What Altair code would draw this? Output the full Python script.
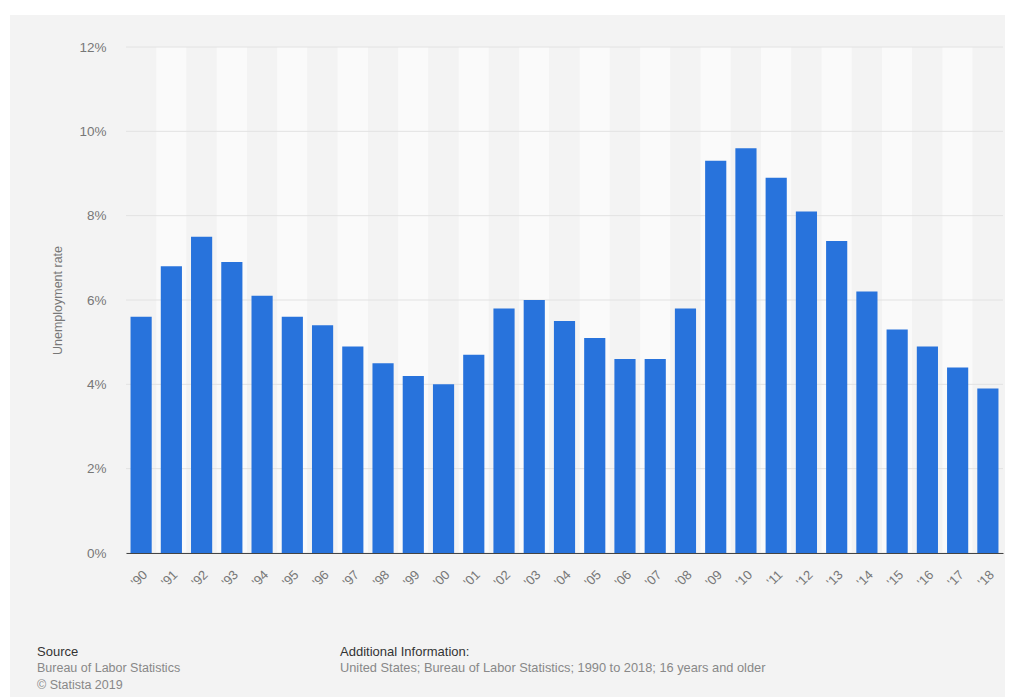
import altair as alt
import pandas as pd

years = ["'90", "'91", "'92", "'93", "'94", "'95", "'96", "'97", "'98", "'99",
         "'00", "'01", "'02", "'03", "'04", "'05", "'06", "'07", "'08", "'09",
         "'10", "'11", "'12", "'13", "'14", "'15", "'16", "'17", "'18"]
rates = [5.6, 6.8, 7.5, 6.9, 6.1, 5.6, 5.4, 4.9, 4.5, 4.2,
         4.0, 4.7, 5.8, 6.0, 5.5, 5.1, 4.6, 4.6, 5.8, 9.3,
         9.6, 8.9, 8.1, 7.4, 6.2, 5.3, 4.9, 4.4, 3.9]
y_ticks = [0, 2, 4, 6, 8, 10, 12]

FONT = "Liberation Sans"
W, H = 877, 506

df = pd.DataFrame({"year": years, "rate": rates, "odd": [i % 2 for i in range(len(years))]})
grid_df = pd.DataFrame({"v": y_ticks})
one = pd.DataFrame({"k": [0]})

xenc = alt.X("year:N", sort=years,
             scale=alt.Scale(paddingInner=0, paddingOuter=0),
             axis=alt.Axis(title=None, labelAngle=-45, labelFontSize=13, labelColor="#777",
                           labelFont=FONT, ticks=False, domain=True, domainColor="#444",
                           domainWidth=1, labelPadding=15, grid=False, zindex=1))
yscale = alt.Scale(domain=[0, 12], nice=False)
yaxis = alt.Axis(values=y_ticks, labelExpr="datum.value + '%'", title="Unemployment rate",
                 titleFont=FONT, titleFontSize=12.5, titleFontWeight="normal", titleColor="#777",
                 titleX=-69, titleY=H / 2, titleAngle=-90, titleAlign="center",
                 titleBaseline="middle",
                 labelFont=FONT, labelFontSize=13.5, labelColor="#777", labelPadding=20,
                 ticks=False, domain=False, grid=False, zindex=1)

panel = alt.Chart(one).mark_rect(color="#f3f3f3").encode(
    x=alt.value(-116), x2=alt.value(879), y=alt.value(-32), y2=alt.value(650))

bands = alt.Chart(df).mark_rect().encode(
    x=xenc,
    y=alt.value(0), y2=alt.value(H),
    color=alt.condition("datum.odd == 1", alt.value("#fafafa"), alt.value("#f3f3f3")))

grid = alt.Chart(grid_df).mark_rule(color="#e2e2e2", strokeWidth=1).encode(
    y=alt.Y("v:Q", scale=yscale, axis=yaxis),
    x=alt.value(0), x2=alt.value(W))

bars = alt.Chart(df).mark_bar(color="#2873dc", width={"band": 0.7}).encode(
    x=xenc,
    y=alt.Y("rate:Q", scale=yscale, axis=yaxis))

def txt(s, x, y, size, color, weight="normal"):
    return alt.Chart(one).mark_text(text=s, align="left", baseline="middle", font=FONT,
                                    fontSize=size, color=color, fontWeight=weight).encode(
        x=alt.value(x), y=alt.value(y))

footer = [
    txt("Source", -89, 605, 13, "#333"),
    txt("Bureau of Labor Statistics", -89, 621, 12.5, "#888"),
    txt("© Statista 2019", -89, 638, 12.5, "#888"),
    txt("Additional Information:", 214, 605, 13, "#333"),
    txt("United States; Bureau of Labor Statistics; 1990 to 2018; 16 years and older", 214, 621, 12.8, "#888"),
]

chart = alt.layer(panel, bands, grid, bars, *footer).properties(
    width=W, height=H,
    background="white",
    autosize=alt.AutoSizeParams(type="none"),
    padding={"left": 126, "top": 47, "right": 7, "bottom": 144},
).configure_view(stroke=None)

chart.save("out.html", embed_options={"renderer": "svg", "actions": False})
